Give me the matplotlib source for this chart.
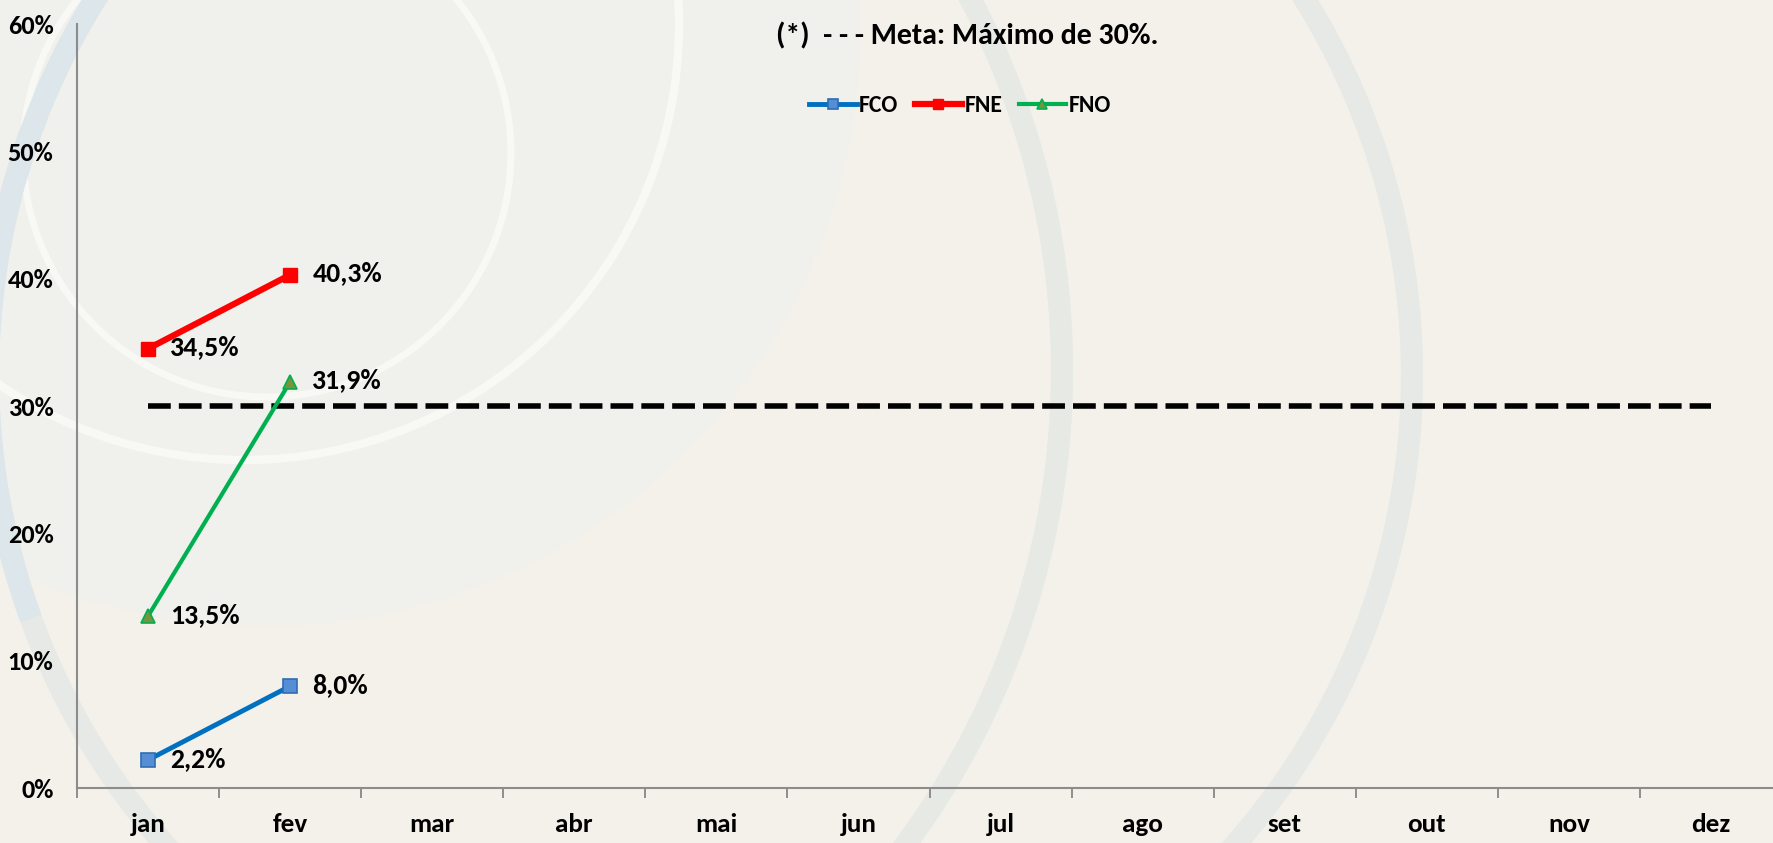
import matplotlib
matplotlib.use('Agg')
import matplotlib.pyplot as plt
from matplotlib.patches import Circle, Arc
from matplotlib.transforms import IdentityTransform
from matplotlib.ticker import FixedLocator, NullFormatter, FixedFormatter

months = ['jan', 'fev', 'mar', 'abr', 'mai', 'jun',
          'jul', 'ago', 'set', 'out', 'nov', 'dez']
fco = [2.2, 8.0]
fne = [34.5, 40.3]
fno = [13.5, 31.9]
meta = [30.0] * 12
y_ticks = [0, 10, 20, 30, 40, 50, 60]

plt.rcParams['font.family'] = ['Carlito', 'Liberation Sans', 'DejaVu Sans']
plt.rcParams['font.weight'] = 'bold'

W, H = 1773, 843
fig = plt.figure(figsize=(W / 100, H / 100), dpi=100)
bg = '#F4F1EA'
fig.patch.set_facecolor(bg)


# decorative background rings (pixel coords from top-left)
def ring(cx, cy, r, color, lw, fill=False):
    c = Circle((cx, H - cy), r, transform=IdentityTransform(),
               facecolor=color if fill else 'none',
               edgecolor='none' if fill else color,
               linewidth=lw, zorder=-5)
    fig.patches.append(c)


ring(263, 29, 597, '#F0F0EC', 0, fill=True)
ring(700, 375, 712, '#E6E9E6', 16)
fig.patches.append(Arc((700, H - 375), 1424, 1424, theta1=135, theta2=200,
                       transform=IdentityTransform(), color='#DCE6EB',
                       linewidth=16, zorder=-4))
ring(264, 370, 798, '#E7E9E5', 16)
ring(267, 153, 244, '#F8F8F5', 5)
ring(244, 25, 435, '#F8F8F5', 6)

ax = fig.add_axes([77 / W, (H - 788) / H, 1705 / W, 764 / H])
ax.set_facecolor('none')

x = list(range(len(months)))
ax.plot(x, meta, color='black', lw=4, dashes=(4.1, 1.45), zorder=2)
ax.plot(x[:len(fco)], fco, color='#0070C0', lw=3.5, marker='s', ms=9.5,
        mfc='#558ED5', mec='#2E6DB4', mew=1.2, label='FCO', zorder=3)
ax.plot(x[:len(fne)], fne, color='#FF0000', lw=4.5, marker='s', ms=9.5,
        mfc='#FF0000', mec='#FF0000', label='FNE', zorder=3)
ax.plot(x[:len(fno)], fno, color='#00B050', lw=3, marker='^', ms=10,
        mfc='#77933C', mec='#00B050', mew=1.2, label='FNO', zorder=3)

for series in (fco, fne, fno):
    for i, v in enumerate(series):
        ax.annotate(f'{v:.1f}%'.replace('.', ','), (i, v), xytext=(16, 1),
                    textcoords='offset points', ha='left', va='center',
                    fontsize=20, fontweight='bold', color='black', zorder=4)

ax.set_xlim(-0.5, 11.5)
ax.set_ylim(0, 60)
ax.xaxis.set_major_locator(FixedLocator([i - 0.5 for i in range(13)]))
ax.xaxis.set_major_formatter(NullFormatter())
ax.xaxis.set_minor_locator(FixedLocator(x))
ax.xaxis.set_minor_formatter(FixedFormatter(months))
ax.tick_params(axis='x', which='major', length=7, width=1.3,
               color='#868686', direction='out')
ax.tick_params(axis='x', which='minor', length=0, pad=18, labelsize=19.5)
ax.set_yticks(y_ticks)
ax.set_yticklabels([f'{t}%' for t in y_ticks])
ax.tick_params(axis='y', length=0, pad=17, labelsize=19)

for s in ('top', 'right'):
    ax.spines[s].set_visible(False)
for s in ('left', 'bottom'):
    ax.spines[s].set_color('#8C8C8C')
    ax.spines[s].set_linewidth(1.5)

fig.text(967 / W, 1 - 36 / H, '(*)  - - - Meta: Máximo de 30%.',
         ha='center', va='center', fontsize=21.5, fontweight='bold')

ax.legend(loc='center', bbox_to_anchor=(960 / W, 1 - 106 / H),
          bbox_transform=fig.transFigure, ncol=3, frameon=False,
          fontsize=17, handlelength=2.0, handletextpad=0.1,
          columnspacing=0.7, markerscale=0.75)

fig.savefig('out.png', dpi=100, facecolor=bg)
